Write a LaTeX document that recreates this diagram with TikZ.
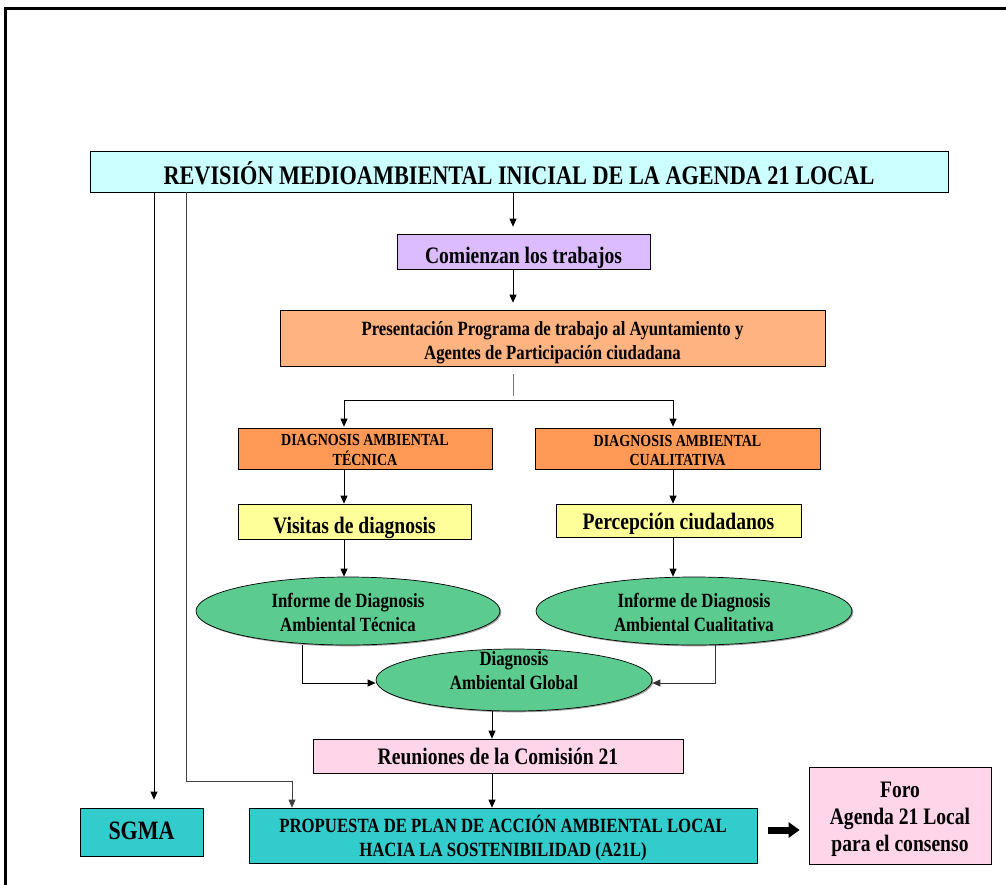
\documentclass[tikz,border=0pt]{standalone}
\usepackage{fontspec}
\setmainfont{Liberation Serif}
\newfontfamily\condserif{Liberation Serif}[FakeStretch=0.83]
\usetikzlibrary{arrows.meta,shapes.geometric,shadows,calc}

\definecolor{titlefill}{HTML}{CCFFFF}
\definecolor{lilac}{HTML}{DDBBFF}
\definecolor{peach}{HTML}{FFB380}
\definecolor{orangefill}{HTML}{FF9955}
\definecolor{paleyellow}{HTML}{FFFF99}
\definecolor{greenfill}{HTML}{5CCB8F}
\definecolor{pinkfill}{HTML}{FFD5EA}
\definecolor{tealfill}{HTML}{33CCCC}

% centred lines of text, drawn #1 lower while keeping their box extents
\newcommand\lowtext[2]{\raisebox{-#1}[\height][\depth]{\begin{tabular}{@{}c@{}}#2\end{tabular}}}

\begin{document}
\begin{tikzpicture}[x=1pt,y=-1pt,
  box/.style={draw=black,line width=0.7pt,inner sep=0pt,align=center,text=black,
    drop shadow={shadow xshift=1.3pt,shadow yshift=-1.3pt,opacity=0.7,fill=black!55}},
  ell/.style={box,ellipse},
  arr/.style={draw=black,line width=0.9pt,-{Triangle[length=8pt,width=7pt]}},
  fTitle/.style={font=\condserif\bfseries\fontsize{26.8}{30}\selectfont},
  fBig/.style={font=\condserif\bfseries\fontsize{23.6}{27}\selectfont},
  fMid/.style={font=\condserif\bfseries\fontsize{20.2}{24}\selectfont},
  fSmall/.style={font=\condserif\bfseries\fontsize{16.9}{19}\selectfont},
  fHuge/.style={font=\condserif\bfseries\fontsize{26.5}{30}\selectfont},
]
\useasboundingbox (0,0) rectangle (1006,884);

% outer frame (top and left edges visible)
\draw[line width=3pt] (5.5,900) -- (5.5,8.5) -- (1020,8.5);

% boxes
\node[box,fTitle,fill=titlefill,minimum width=858pt,minimum height=41pt] (title) at (519,171.5)
  {\lowtext{5.5pt}{REVISIÓN MEDIOAMBIENTAL INICIAL DE LA AGENDA 21 LOCAL}};
\node[box,fBig,fill=lilac,minimum width=253pt,minimum height=35pt] (com) at (523.5,251.5)
  {\lowtext{6.5pt}{Comienzan los trabajos}};
\node[box,fMid,fill=peach,minimum width=545pt,minimum height=56pt] (pres) at (552.5,338)
  {\lowtext{5pt}{Presentación Programa de trabajo al Ayuntamiento y\\Agentes de Participación ciudadana}};
\node[box,fSmall,fill=orangefill,minimum width=254pt,minimum height=41pt] (dt) at (365,448.5)
  {\lowtext{3.5pt}{DIAGNOSIS AMBIENTAL\\TÉCNICA}};
\node[box,fSmall,fill=orangefill,minimum width=285pt,minimum height=41pt] (dc) at (677.5,448.5)
  {\lowtext{3.5pt}{DIAGNOSIS AMBIENTAL\\CUALITATIVA}};
\node[box,fBig,fill=paleyellow,minimum width=233pt,minimum height=35pt] (vis) at (354.5,521.5)
  {\lowtext{6.5pt}{Visitas de diagnosis}};
\node[box,fBig,fill=paleyellow,minimum width=245pt,minimum height=33pt] (per) at (678.5,520.5)
  {\lowtext{4pt}{Percepción ciudadanos}};
\node[ell,fMid,fill=greenfill,minimum width=304pt,minimum height=68pt] (e1) at (348,611)
  {\lowtext{4pt}{Informe de Diagnosis\\Ambiental Técnica}};
\node[ell,fMid,fill=greenfill,minimum width=316pt,minimum height=68pt] (e2) at (694,611)
  {\lowtext{4pt}{Informe de Diagnosis\\Ambiental Cualitativa}};
\node[ell,fill=greenfill,minimum width=276pt,minimum height=62pt,
  label={[fMid,align=center,yshift=9pt]center:Diagnosis\\Ambiental Global}] (glob) at (514,680) {};
\node[box,fBig,fill=pinkfill,minimum width=370pt,minimum height=34pt] (reu) at (498,756)
  {\lowtext{3.5pt}{Reuniones de la Comisión 21}};
\node[box,fMid,fill=tealfill,minimum width=508pt,minimum height=55pt] (prop) at (503,835.5)
  {\lowtext{4pt}{PROPUESTA DE PLAN DE ACCIÓN AMBIENTAL LOCAL\\HACIA LA SOSTENIBILIDAD (A21L)}};
\node[box,fHuge,fill=tealfill,minimum width=123pt,minimum height=48pt] (sgma) at (141.5,832)
  {\lowtext{1.5pt}{SGMA}};
\node[box,fBig,fill=pinkfill,minimum width=182pt,minimum height=97pt] (foro) at (900,815.5)
  {\lowtext{3.5pt}{Foro\\Agenda 21 Local\\para el consenso}};

% column guides for the connectors
\coordinate (cA) at (513,0);
\coordinate (cB) at (492,0);
\coordinate (cL) at (344,0);
\coordinate (cR) at (673,0);
\coordinate (cS) at (154,0);
\coordinate (cP) at (186,0);
\coordinate (cQ) at (292,0);
\coordinate (split) at (513,400);
\coordinate (turn) at (186,781);

% main column
\draw[arr,shorten >=7pt] (title.south -| cA) -- (com.north -| cA);
\draw[arr,shorten >=7pt] (com.south -| cA) -- (pres.north -| cA);
\draw[draw=black!55,line width=0.9pt] ($(pres.south -| cA)+(0,8)$) -- ($(split)+(0,-4)$);
\draw[arr,shorten >=1pt] (split) -| (dt.north -| cL);
\draw[arr,shorten >=1pt] (split) -| (dc.north -| cR);

% left branch
\draw[arr] (dt.south -| cL) -- (vis.north -| cL);
\draw[arr] (vis.south -| cL) -- (e1.north -| cL);
% right branch
\draw[arr] (dc.south -| cR) -- (per.north -| cR);
\draw[arr] (per.south -| cR) -- (e2.north -| cR);

% join into the global diagnosis
\draw[arr] ($(e1.south)+(-46,0)$) |- ($(glob.west)+(0,3)$);
\draw[arr,draw=black!80] ($(e2.south)+(21,0)$) |- ($(glob.east)+(0,3)$);

\draw[arr] (glob.south -| cB) -- (reu.north -| cB);
\draw[arr] (reu.south -| cB) -- (prop.north -| cB);

% long connectors from the heading
\draw[arr,shorten >=8pt] (title.south -| cS) -- (sgma.north -| cS);
\draw[arr,draw=black!75] (title.south -| cP) -- (turn) -| (prop.north -| cQ);

% block arrow towards the forum
\draw[line width=7pt,-{Triangle[length=11pt,width=15pt]}]
  ($(prop.east)+(11,-5.5)$) -- ($(foro.west |- prop.east)+(-9,-5.5)$);
\end{tikzpicture}
\end{document}
